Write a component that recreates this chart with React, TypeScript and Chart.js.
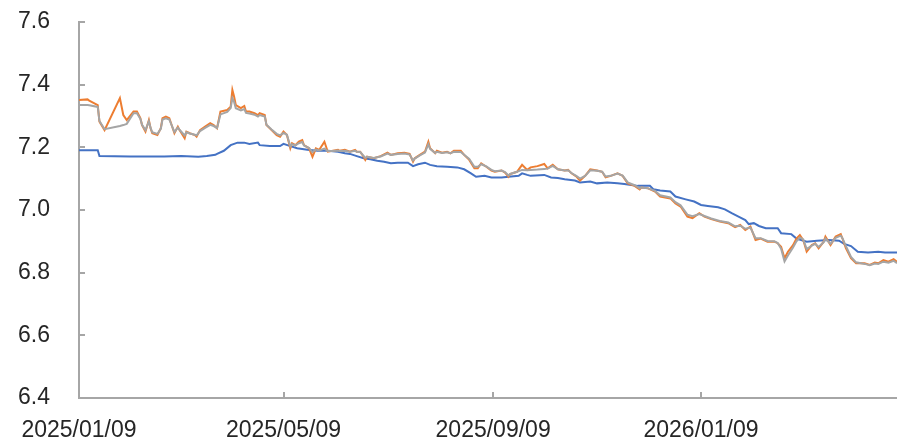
import React, { useEffect, useRef } from "react";
import { Chart, registerables } from "chart.js";

Chart.register(...registerables);

// days since 2025/01/09
const marketDays = [
  0, 5, 6, 11, 12, 15, 24, 26, 28, 32, 34, 36, 37, 39, 41, 42, 43, 46, 48, 49,
  51, 53, 55, 56, 58, 59, 62, 63, 65, 68, 69, 71, 74, 77, 79, 81, 83, 87, 89, 90,
  91, 92, 95, 97, 98, 100, 103, 105, 106, 109, 110, 113, 116, 118, 120, 122, 124, 125, 127, 129,
  131, 132, 135, 137, 139, 141, 144, 146, 149, 152, 153, 156, 159, 162, 163, 165, 167, 168, 169, 173,
  177, 181, 183, 187, 191, 194, 196, 197, 200, 203, 205, 206, 209, 210, 213, 216, 218, 220, 224, 226,
  229, 232, 234, 236, 239, 242, 244, 248, 250, 252, 253, 257, 260, 263, 265, 269, 273, 275, 278, 281,
  285, 287, 289, 292, 294, 297, 300, 304, 307, 309, 312, 316, 319, 322, 326, 329, 330, 334, 338, 341,
  347, 350, 353, 357, 360, 364, 367, 371, 376, 381, 385, 388, 391, 394, 397, 400, 404, 408, 410, 412,
  414, 416, 419, 421, 423, 425, 427, 430, 432, 434, 437, 438, 441, 444, 447, 448, 450, 453, 456, 461,
  464, 467, 469, 472, 475, 478, 480,
];

const offshoreRate = [
  7.351, 7.353, 7.349, 7.335, 7.282, 7.255, 7.357, 7.303, 7.287, 7.314, 7.314, 7.293, 7.271, 7.25, 7.287, 7.261, 7.245, 7.239, 7.261, 7.293,
  7.298, 7.293, 7.261, 7.245, 7.266, 7.255, 7.229, 7.25, 7.245, 7.239, 7.234, 7.255, 7.266, 7.277, 7.271, 7.261, 7.314, 7.319, 7.33, 7.383,
  7.362, 7.335, 7.325, 7.332, 7.314, 7.314, 7.309, 7.303, 7.309, 7.303, 7.271, 7.255, 7.239, 7.234, 7.25, 7.239, 7.197, 7.213, 7.207, 7.218,
  7.223, 7.207, 7.197, 7.17, 7.197, 7.192, 7.218, 7.186, 7.189, 7.192, 7.189, 7.192, 7.186, 7.192, 7.186, 7.186, 7.17, 7.16, 7.17, 7.165,
  7.172, 7.183, 7.176, 7.181, 7.183, 7.179, 7.154, 7.165, 7.176, 7.186, 7.218, 7.197, 7.181, 7.189, 7.183, 7.186, 7.181, 7.189, 7.189, 7.176,
  7.16, 7.133, 7.133, 7.149, 7.138, 7.126, 7.122, 7.126, 7.119, 7.106, 7.115, 7.122, 7.144, 7.128, 7.136, 7.14, 7.147, 7.133, 7.144, 7.13,
  7.126, 7.128, 7.117, 7.106, 7.094, 7.109, 7.13, 7.126, 7.122, 7.104, 7.109, 7.117, 7.109, 7.085, 7.077, 7.066, 7.072, 7.069, 7.059, 7.043,
  7.037, 7.021, 7.011, 6.979, 6.974, 6.99, 6.979, 6.971, 6.963, 6.958, 6.945, 6.952, 6.936, 6.947, 6.904, 6.909, 6.899, 6.899, 6.894, 6.883,
  6.846, 6.867, 6.888, 6.909, 6.92, 6.904, 6.867, 6.888, 6.894, 6.878, 6.899, 6.915, 6.888, 6.915, 6.923, 6.909, 6.878, 6.846, 6.83, 6.83,
  6.825, 6.832, 6.83, 6.84, 6.835, 6.843, 6.835,
];

const onshoreRate = [
  7.335, 7.335, 7.334, 7.329, 7.284, 7.258, 7.268, 7.271, 7.275, 7.309, 7.309, 7.291, 7.272, 7.255, 7.283, 7.262, 7.248, 7.243, 7.259, 7.289,
  7.293, 7.289, 7.262, 7.249, 7.263, 7.256, 7.238, 7.248, 7.244, 7.24, 7.238, 7.252, 7.262, 7.272, 7.268, 7.262, 7.305, 7.313, 7.325, 7.357,
  7.345, 7.325, 7.318, 7.322, 7.31, 7.308, 7.304, 7.298, 7.303, 7.298, 7.272, 7.257, 7.243, 7.238, 7.246, 7.24, 7.203, 7.21, 7.206, 7.213,
  7.217, 7.206, 7.198, 7.185, 7.193, 7.19, 7.196, 7.188, 7.188, 7.19, 7.188, 7.189, 7.186, 7.189, 7.186, 7.185, 7.173, 7.166, 7.17, 7.166,
  7.171, 7.18, 7.176, 7.179, 7.18, 7.177, 7.158, 7.164, 7.174, 7.183, 7.21, 7.195, 7.182, 7.186, 7.182, 7.184, 7.181, 7.186, 7.185, 7.176,
  7.163, 7.138, 7.138, 7.146, 7.139, 7.128, 7.124, 7.126, 7.121, 7.11, 7.115, 7.122, 7.128, 7.127, 7.128, 7.129, 7.131, 7.132, 7.141, 7.13,
  7.126, 7.127, 7.118, 7.108, 7.1, 7.109, 7.127, 7.125, 7.122, 7.107, 7.109, 7.116, 7.11, 7.088, 7.079, 7.069, 7.072, 7.069, 7.061, 7.047,
  7.04, 7.025, 7.015, 6.985, 6.98, 6.987, 6.981, 6.973, 6.965, 6.96, 6.948, 6.95, 6.94, 6.944, 6.91, 6.91, 6.901, 6.9, 6.895, 6.876,
  6.836, 6.855, 6.88, 6.9, 6.912, 6.906, 6.875, 6.886, 6.892, 6.882, 6.897, 6.909, 6.892, 6.911, 6.918, 6.91, 6.885, 6.85, 6.833, 6.828,
  6.824, 6.829, 6.828, 6.835, 6.832, 6.838, 6.83,
];

const fixDays = [
  0, 11, 12, 30, 50, 60, 70, 75, 80, 81, 85, 89, 93, 97, 100, 105, 106, 112, 118, 120,
  124, 128, 134, 140, 146, 152, 156, 159, 163, 167, 171, 175, 179, 183, 187, 193, 196, 199, 203, 206,
  210, 216, 222, 226, 230, 233, 238, 242, 248, 252, 258, 260, 263, 265, 273, 277, 281, 285, 291, 294,
  300, 304, 310, 316, 320, 324, 328, 335, 337, 341, 347, 350, 356, 361, 365, 369, 375, 379, 383, 387,
  391, 393, 396, 399, 403, 410, 412, 418, 421, 427, 433, 440, 446, 449, 453, 457, 463, 469, 473, 480,
];

const fixingRate = [
  7.191, 7.191, 7.172, 7.171, 7.171, 7.172, 7.17, 7.172, 7.176, 7.179, 7.189, 7.207, 7.215, 7.215, 7.211, 7.215, 7.207, 7.204, 7.204, 7.211,
  7.204, 7.197, 7.192, 7.189, 7.189, 7.186, 7.181, 7.179, 7.172, 7.165, 7.162, 7.157, 7.154, 7.149, 7.151, 7.151, 7.14, 7.146, 7.151, 7.144,
  7.14, 7.138, 7.136, 7.13, 7.117, 7.106, 7.109, 7.104, 7.104, 7.106, 7.109, 7.117, 7.112, 7.109, 7.112, 7.104, 7.102, 7.098, 7.094, 7.088,
  7.091, 7.085, 7.088, 7.085, 7.083, 7.08, 7.077, 7.077, 7.066, 7.062, 7.059, 7.043, 7.034, 7.027, 7.016, 7.013, 7.009, 7.002, 6.99, 6.979,
  6.968, 6.955, 6.958, 6.949, 6.942, 6.942, 6.926, 6.923, 6.909, 6.899, 6.902, 6.904, 6.902, 6.892, 6.885, 6.867, 6.864, 6.867, 6.864, 6.864,
];

const tickDays = [0, 120, 243, 365];
const tickLabels = ["2025/01/09", "2025/05/09", "2025/09/09", "2026/01/09"];

const AXIS_COLOR = "#a6a6a6";
const FONT = { family: "'Liberation Sans', Arial, sans-serif", size: 23 };

const innerTicks = {
  id: "innerTicks",
  afterDatasetsDraw(chart: any) {
    const { ctx, chartArea, scales } = chart;
    ctx.save();
    ctx.strokeStyle = AXIS_COLOR;
    ctx.lineWidth = 2;
    ctx.beginPath();
    scales.y.ticks.forEach((t: any) => {
      const py = Math.round(scales.y.getPixelForValue(t.value));
      ctx.moveTo(chartArea.left, py);
      ctx.lineTo(chartArea.left + 6, py);
    });
    scales.x.ticks.forEach((t: any) => {
      const px = Math.round(scales.x.getPixelForValue(t.value));
      ctx.moveTo(px, chartArea.bottom);
      ctx.lineTo(px, chartArea.bottom - 6);
    });
    ctx.stroke();
    ctx.restore();
  },
};

export default function App() {
  const ref = useRef<HTMLCanvasElement>(null);
  useEffect(() => {
    document.body.style.margin = "0";
    const toPts = (xs: number[], ys: number[]) => xs.map((x, i) => ({ x, y: ys[i] }));
    const chart = new Chart(ref.current!, {
      type: "line",
      data: {
        datasets: [
          {
            label: "在岸",
            data: toPts(marketDays, onshoreRate),
            borderColor: "#a5a5a5",
            borderWidth: 2,
            pointRadius: 0,
            tension: 0,
          },
          {
            label: "离岸",
            data: toPts(marketDays, offshoreRate),
            borderColor: "#ed7d31",
            borderWidth: 2,
            pointRadius: 0,
            tension: 0,
          },
          {
            label: "中间价",
            data: toPts(fixDays, fixingRate),
            borderColor: "#4472c4",
            borderWidth: 2,
            pointRadius: 0,
            tension: 0,
          },
        ],
      },
      options: {
        responsive: false,
        animation: false,
        layout: { padding: { top: 22, right: 0, left: 18, bottom: 0 } },
        plugins: { legend: { display: false }, tooltip: { enabled: false } },
        scales: {
          x: {
            type: "linear",
            min: 0,
            max: 480,
            grid: { display: false, drawTicks: false },
            border: { display: true, color: AXIS_COLOR, width: 2 },
            afterBuildTicks: (s: any) => {
              s.ticks = tickDays.map((v) => ({ value: v }));
            },
            afterFit: (s: any) => {
              s.height = 39;
            },
            ticks: {
              autoSkip: false,
              maxRotation: 0,
              padding: 19,
              color: "#262626",
              font: FONT,
              callback: (v: any) => {
                const i = tickDays.indexOf(Number(v));
                return i >= 0 ? tickLabels[i] : "";
              },
            },
          },
          y: {
            min: 6.4,
            max: 7.6,
            grid: { display: false, drawTicks: false },
            border: { display: true, color: AXIS_COLOR, width: 2 },
            afterFit: (s: any) => {
              s.width = 61;
            },
            ticks: {
              stepSize: 0.2,
              padding: 3,
              crossAlign: "far",
              color: "#262626",
              font: FONT,
              callback: (v: any) => Number(v).toFixed(1),
            },
          },
        },
      },
      plugins: [innerTicks],
    });
    return () => chart.destroy();
  }, []);
  return <canvas ref={ref} width={897} height={437} style={{ display: "block" }} />;
}
